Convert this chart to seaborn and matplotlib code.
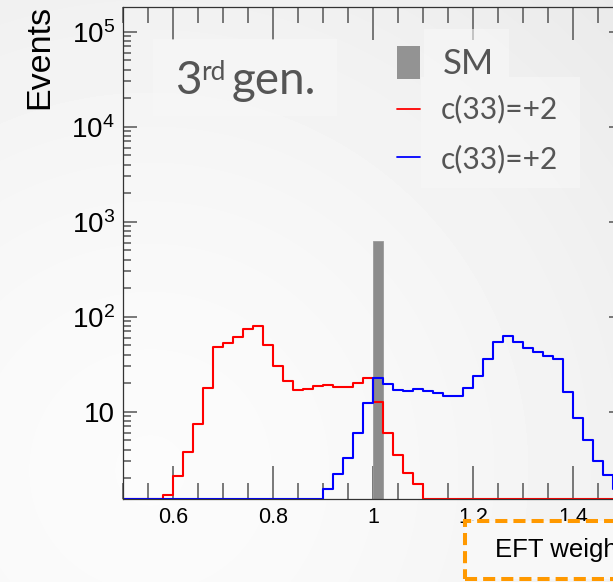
import numpy as np
import pandas as pd
import matplotlib
matplotlib.use("Agg")
import matplotlib.pyplot as plt
import seaborn as sns
from matplotlib.patches import Rectangle
from matplotlib.lines import Line2D
from matplotlib.ticker import FixedLocator, FixedFormatter, MultipleLocator

# ---- data: 50 bins of EFT weight from 0.5 to 1.5 ----
bin_lo, bin_hi, n_bins = 0.5, 1.5, 50

red_counts = [0, 0, 0, 0, 1.33, 2.1, 3.74, 7.4, 17.9, 48,
              53, 61.5, 74, 80, 50, 30, 21, 16.9, 17.3, 18.5,
              19.1, 18.3, 18.1, 20.2, 22.8, 12.7, 5.9, 3.5, 2.28, 1.72,
              0, 0, 0, 0, 0, 0, 0, 0, 0, 0,
              0, 0, 0, 0, 0, 0, 0, 0, 0, 0]

blue_counts = [0, 0, 0, 0, 0, 0, 0, 0, 0, 0,
               0, 0, 0, 0, 0, 0, 0, 0, 0, 0,
               1.52, 2.19, 3.23, 5.9, 12.3, 22.5, 19.6, 16.9, 16.6, 17.5,
               16.5, 15.6, 14.6, 14.6, 17.6, 23.8, 35.9, 54.6, 62.6, 54.6,
               47.2, 42.2, 38.6, 35.6, 16.2, 8.5, 5.0, 3.03, 2.16, 1.55]

sm_edges = [1.00, 1.02]
sm_count = [627]

series_labels = ["SM", "c(33)=+2", "c(33)=+2"]
x_ticks = [0.6, 0.8, 1.0, 1.2, 1.4]
x_tick_labels = ["0.6", "0.8", "1", "1.2", "1.4"]
y_ticks = [10, 1e2, 1e3, 1e4, 1e5]
y_tick_labels = ["10", r"$\mathregular{10^{2}}$", r"$\mathregular{10^{3}}$",
                 r"$\mathregular{10^{4}}$", r"$\mathregular{10^{5}}$"]

# ---- figure ----
W, H = 613, 582
sns.set_style("white")
plt.rcParams["font.family"] = ["Liberation Sans", "DejaVu Sans"]
plt.rcParams["mathtext.fontset"] = "custom"
plt.rcParams["mathtext.rm"] = "Liberation Sans"

fig = plt.figure(figsize=(W / 100, H / 100), dpi=100)


def fx(px):
    return px / W


def fy(py):
    return 1 - py / H


# soft slide-like background
bg = fig.add_axes([0, 0, 1, 1], zorder=-10)
yy, xx = np.mgrid[0:H, 0:W]
dist = np.hypot(xx - 150, yy - 470) / 700.0
shade = 0.985 - 0.075 * np.clip(dist, 0, 1.2) ** 1.6
bg.imshow(shade, cmap="gray", vmin=0, vmax=1, extent=[0, W, H, 0], aspect="auto")
bg.set_xlim(0, W)
bg.set_ylim(H, 0)
bg.axis("off")

YMIN, YMAX = 1.205, 1.81e5
ax_left, ax_right, ax_top, ax_bottom = 123, 623, 7.3, 499
ax = fig.add_axes([fx(ax_left), fy(ax_bottom), (ax_right - ax_left) / W,
                   (ax_bottom - ax_top) / H])
ax.set_facecolor("none")
ax.set_yscale("log")

edges = np.linspace(bin_lo, bin_hi, n_bins + 1)
centers = 0.5 * (edges[:-1] + edges[1:])

# empty bins sit on the frame bottom, as in the original histogram style
hist_df = pd.DataFrame({
    "weight": centers,
    "red": np.maximum(np.array(red_counts, float), YMIN),
    "blue": np.maximum(np.array(blue_counts, float), YMIN),
})
sm_df = pd.DataFrame({"weight": [0.5 * (sm_edges[0] + sm_edges[1])], "sm": sm_count})

# SM histogram (single filled bin)
sns.histplot(data=sm_df, x="weight", weights="sm", bins=sm_edges,
             element="bars", fill=True, color="#8c8c8c", alpha=1.0,
             edgecolor="#9a9a9a", linewidth=0.6, ax=ax, zorder=1)

sns.histplot(data=hist_df, x="weight", weights="red", bins=edges.tolist(),
             element="step", fill=False, color="#ff0000", linewidth=1.5,
             ax=ax, zorder=3)
sns.histplot(data=hist_df, x="weight", weights="blue", bins=edges.tolist(),
             element="step", fill=False, color="#0000ff", linewidth=1.5,
             ax=ax, zorder=4)

ax.set_xlim(bin_lo, bin_hi)
ax.set_ylim(YMIN, YMAX)
ax.set_xlabel("")
ax.set_ylabel("")

ax.xaxis.set_major_locator(FixedLocator(x_ticks))
ax.xaxis.set_major_formatter(FixedFormatter(x_tick_labels))
ax.xaxis.set_minor_locator(MultipleLocator(0.05))
ax.yaxis.set_major_locator(FixedLocator(y_ticks))
ax.yaxis.set_major_formatter(FixedFormatter(y_tick_labels))
minor_y = [m * 10.0 ** e for e in range(0, 6) for m in range(2, 10)]
ax.yaxis.set_minor_locator(FixedLocator(minor_y))
ax.yaxis.set_minor_formatter(FixedFormatter([""] * len(minor_y)))

px2pt = 72 / 100
ax.tick_params(axis="x", which="major", direction="in", top=True, bottom=True,
               length=33 * px2pt, width=1.1, color="#555555", labelsize=15.5,
               labelcolor="black", pad=6)
ax.tick_params(axis="x", which="minor", direction="in", top=True, bottom=True,
               length=16 * px2pt, width=1.1, color="#555555")
ax.tick_params(axis="y", which="major", direction="in", left=True, right=True,
               length=14 * px2pt, width=1.1, color="#555555", labelsize=20,
               labelcolor="black", pad=6)
ax.tick_params(axis="y", which="minor", direction="in", left=True, right=True,
               length=8 * px2pt, width=1.1, color="#555555")
for s in ax.spines.values():
    s.set_color("#333333")
    s.set_linewidth(0.9)
    s.set_zorder(5)

# y-axis title
fig.text(fx(40), fy(5), "Events", rotation=90, ha="center", va="top",
         fontsize=24.5, color="black")

# ---- annotation boxes ----
box_face = "#f8f8f8"


def pbox(x0, y0, x1, y1, **kw):
    r = Rectangle((fx(x0), fy(y1)), fx(x1) - fx(x0), fy(y0) - fy(y1),
                  transform=fig.transFigure, **kw)
    fig.add_artist(r)
    return r


pbox(153, 39, 337, 116, facecolor=box_face, edgecolor="none", alpha=0.6, zorder=6)
label_font = ["Lato", "DejaVu Sans"]
txt_col = "#555555"
fig.text(fx(175), fy(94), "3", fontsize=33, family=label_font, color=txt_col,
         ha="left", va="baseline", zorder=7)
fig.text(fx(201), fy(80), "rd", fontsize=19, family=label_font, color=txt_col,
         ha="left", va="baseline", zorder=7)
fig.text(fx(232), fy(94), "gen.", fontsize=33, family=label_font, color=txt_col,
         ha="left", va="baseline", zorder=7)

# legend
pbox(424, 29, 509, 77, facecolor=box_face, edgecolor="none", alpha=0.6, zorder=6)
pbox(421, 77, 580, 188, facecolor=box_face, edgecolor="none", alpha=0.6, zorder=6)
pbox(397, 46, 420, 79, facecolor="#939393", edgecolor="none", zorder=7)
fig.add_artist(Line2D([fx(397), fx(420)], [fy(109), fy(109)], color="#ff0000",
                      lw=1.3, transform=fig.transFigure, zorder=7))
fig.add_artist(Line2D([fx(397), fx(420)], [fy(157), fy(157)], color="#0000ff",
                      lw=1.3, transform=fig.transFigure, zorder=7))
fig.text(fx(443), fy(74), series_labels[0], fontsize=25, family=label_font,
         color=txt_col, ha="left", va="baseline", zorder=8)
fig.text(fx(441), fy(118), series_labels[1], fontsize=21.5, family=label_font,
         color=txt_col, ha="left", va="baseline", zorder=8)
fig.text(fx(441), fy(168), series_labels[2], fontsize=21.5, family=label_font,
         color=txt_col, ha="left", va="baseline", zorder=8)

# x-axis title box
pbox(465, 521, 720, 579, facecolor=box_face, edgecolor="#ff9900", lw=2.9,
     linestyle=(0, (3, 1.5)), zorder=6)
fig.text(fx(495), fy(557), "EFT weight", fontsize=18.5, color="black",
         ha="left", va="baseline", zorder=7)

fig.savefig("out.png", dpi=100)
